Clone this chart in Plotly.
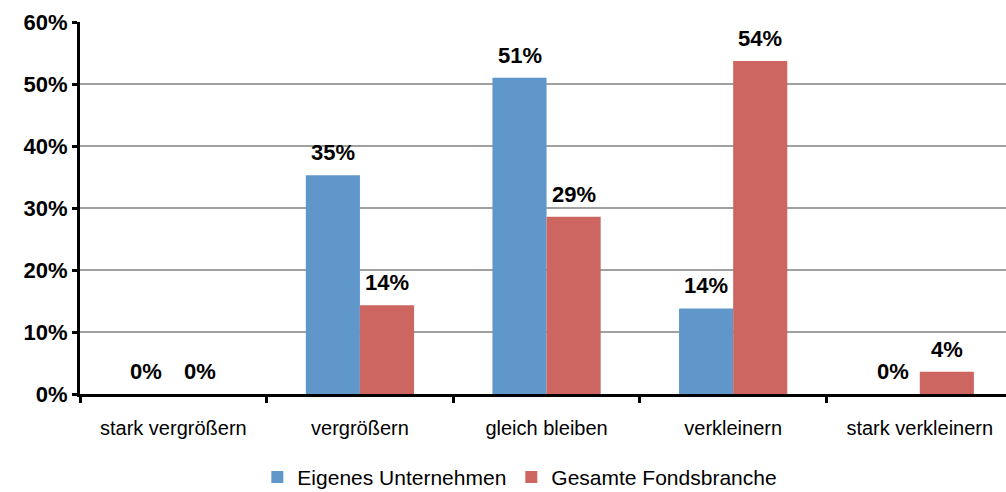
import plotly.graph_objects as go

categories = ["stark vergrößern", "vergrößern", "gleich bleiben", "verkleinern", "stark verkleinern"]
eigenes = [0.0, 35.3, 51.0, 13.8, 0.0]
gesamte = [0.0, 14.3, 28.6, 53.7, 3.6]
series_names = ["Eigenes Unternehmen", "Gesamte Fondsbranche"]
y_ticks = [0, 10, 20, 30, 40, 50, 60]
y_ticklabels = [f"{v}%" for v in y_ticks]

BLUE = "#6097CA"
RED = "#CD6560"
FONT = "Liberation Sans, Arial, sans-serif"

fig = go.Figure()
for name, vals, col in [(series_names[0], eigenes, BLUE), (series_names[1], gesamte, RED)]:
    fig.add_trace(go.Bar(
        x=categories, y=vals, name=name, marker=dict(color=col, line=dict(width=0)),
    ))

# data labels
for vals, shift in [(eigenes, -27), (gesamte, 27)]:
    for c, v in zip(categories, vals):
        fig.add_annotation(
            x=c, y=v, xref="x", yref="y", text=f"<b>{int(v + 0.5)}%</b>",
            showarrow=False, yanchor="bottom", xanchor="center", xshift=shift, yshift=8,
            font=dict(family=FONT, size=22, color="#000000"),
        )

fig.update_layout(
    width=1006, height=492,
    margin=dict(l=80, r=0, t=22, b=98),
    paper_bgcolor="white", plot_bgcolor="white",
    barmode="group", bargap=0.42, bargroupgap=0,
    font=dict(family=FONT, color="#000000"),
    showlegend=True,
    legend=dict(orientation="h", x=0.475, xanchor="center",
                yref="container", y=0.03, yanchor="middle",
                font=dict(family=FONT, size=21), itemwidth=30, traceorder="normal"),
    xaxis=dict(
        type="category", range=[-0.5, 4.462], automargin=False,
        showline=True, linecolor="#000000", linewidth=3,
        ticks="outside", tickson="boundaries", ticklen=6, tickwidth=3, tickcolor="#000000",
        tickfont=dict(family=FONT, size=20), showgrid=False, ticklabelstandoff=14,
    ),
    yaxis=dict(
        range=[0, 60], tickvals=y_ticks, ticktext=[f"<b>{t}</b>" for t in y_ticklabels],
        automargin=False,
        showline=True, linecolor="#000000", linewidth=3,
        ticks="outside", ticklen=5, tickwidth=3, tickcolor="#000000",
        tickfont=dict(family=FONT, size=22),
        showgrid=True, gridcolor="#A0A0A0", gridwidth=2, zeroline=False,
    ),
)

fig.write_html("out.html", config={"displayModeBar": False},
               post_script="document.body.style.margin='0px';document.body.style.overflow='hidden';")
